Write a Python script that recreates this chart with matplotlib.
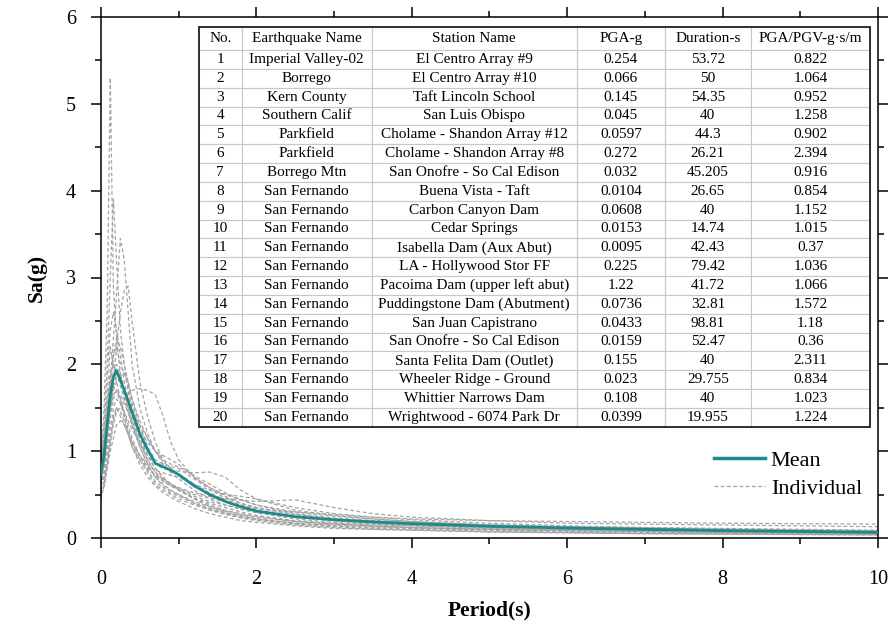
import matplotlib
matplotlib.use('Agg')
import matplotlib.pyplot as plt
from matplotlib.patches import Rectangle
from matplotlib.lines import Line2D
from matplotlib.ticker import MultipleLocator

plt.rcParams['font.family'] = ['Liberation Serif', 'DejaVu Serif']

## 주기 (s)
period = [0, 0.04, 0.08, 0.12, 0.16, 0.2, 0.25, 0.3, 0.35, 0.4, 0.5, 0.6, 0.7, 0.8, 0.9, 1.0,
          1.2, 1.4, 1.6, 1.8, 2.0, 2.5, 3.0, 3.5, 4.0, 5.0, 6.0, 7.0, 8.0, 9.0, 10.0]

# 평균 스펙트럼
mean_sa = [0.74, 0.95, 1.3, 1.65, 1.85, 1.93, 1.82, 1.7, 1.58, 1.45, 1.2, 1.02, 0.86, 0.82, 0.78, 0.73,
           0.6, 0.5, 0.42, 0.36, 0.31, 0.245, 0.21, 0.185, 0.165, 0.135, 0.115, 0.1, 0.085, 0.075, 0.065]

# 개별 지진 스펙트럼 (20개)
sa_01 = [0.85, 1.5, 2.6, 5.3, 2.9, 2.3, 1.9, 1.6, 1.45, 1.3, 1.05, 0.85, 0.7, 0.62, 0.55, 0.5,
         0.4, 0.33, 0.28, 0.24, 0.21, 0.16, 0.13, 0.11, 0.1, 0.08, 0.065, 0.055, 0.05, 0.045, 0.04]
sa_02 = [0.8, 1.2, 2.0, 3.0, 3.9, 3.2, 2.4, 2.0, 1.7, 1.5, 1.2, 0.95, 0.8, 0.7, 0.62, 0.55,
         0.45, 0.38, 0.32, 0.28, 0.25, 0.19, 0.16, 0.14, 0.12, 0.1, 0.085, 0.075, 0.065, 0.055, 0.05]
sa_03 = [0.7, 0.9, 1.3, 1.8, 2.3, 2.8, 3.45, 3.2, 2.6, 2.0, 1.5, 1.2, 1.0, 0.85, 0.75, 0.68,
         0.55, 0.45, 0.38, 0.33, 0.29, 0.22, 0.18, 0.16, 0.14, 0.11, 0.095, 0.08, 0.07, 0.06, 0.055]
sa_04 = [0.6, 0.75, 1.0, 1.4, 1.8, 2.2, 2.6, 2.85, 2.9, 2.5, 1.8, 1.4, 1.1, 0.9, 0.8, 0.72,
         0.6, 0.5, 0.42, 0.36, 0.31, 0.24, 0.2, 0.17, 0.15, 0.12, 0.1, 0.085, 0.075, 0.065, 0.06]
sa_05 = [0.55, 0.65, 0.85, 1.1, 1.3, 1.45, 1.5, 1.6, 1.65, 1.7, 1.72, 1.7, 1.65, 1.4, 1.1, 0.9,
         0.7, 0.58, 0.5, 0.44, 0.38, 0.3, 0.25, 0.22, 0.19, 0.15, 0.13, 0.11, 0.1, 0.09, 0.08]
sa_06 = [0.6, 0.7, 0.95, 1.2, 1.5, 1.6, 1.55, 1.45, 1.35, 1.25, 1.1, 0.95, 0.85, 0.8, 0.78, 0.77,
         0.75, 0.76, 0.7, 0.55, 0.45, 0.32, 0.26, 0.22, 0.19, 0.15, 0.13, 0.115, 0.1, 0.09, 0.08]
sa_07 = [0.5, 0.6, 0.8, 1.1, 1.35, 1.5, 1.45, 1.35, 1.2, 1.05, 0.9, 0.8, 0.72, 0.68, 0.62, 0.58,
         0.52, 0.48, 0.45, 0.44, 0.42, 0.44, 0.35, 0.28, 0.24, 0.2, 0.17, 0.16, 0.15, 0.14, 0.13]
sa_08 = [0.95, 1.3, 1.9, 2.4, 2.6, 2.4, 2.1, 1.8, 1.6, 1.4, 1.15, 0.95, 0.8, 0.7, 0.62, 0.56,
         0.45, 0.36, 0.3, 0.26, 0.22, 0.17, 0.14, 0.12, 0.11, 0.09, 0.075, 0.065, 0.055, 0.05, 0.045]
sa_09 = [0.65, 0.85, 1.2, 1.7, 2.1, 2.2, 2.0, 1.9, 1.75, 1.55, 1.25, 1.1, 1.0, 0.95, 0.9, 0.85,
         0.7, 0.58, 0.48, 0.4, 0.35, 0.27, 0.22, 0.2, 0.18, 0.14, 0.12, 0.1, 0.09, 0.08, 0.07]
sa_10 = [0.45, 0.6, 0.9, 1.2, 1.4, 1.5, 1.4, 1.3, 1.2, 1.1, 0.9, 0.75, 0.62, 0.55, 0.5, 0.45,
         0.38, 0.32, 0.27, 0.23, 0.2, 0.15, 0.12, 0.1, 0.09, 0.07, 0.06, 0.05, 0.045, 0.04, 0.035]
sa_11 = [0.75, 1.0, 1.5, 1.9, 2.0, 1.9, 1.75, 1.6, 1.5, 1.45, 1.3, 1.15, 1.0, 0.9, 0.85, 0.82,
         0.72, 0.62, 0.52, 0.44, 0.38, 0.28, 0.23, 0.2, 0.18, 0.15, 0.13, 0.12, 0.11, 0.1, 0.09]
sa_12 = [0.9, 1.1, 1.6, 2.2, 2.0, 1.8, 1.6, 1.4, 1.2, 1.05, 0.85, 0.7, 0.6, 0.52, 0.47, 0.42,
         0.34, 0.28, 0.24, 0.2, 0.18, 0.14, 0.11, 0.1, 0.09, 0.07, 0.06, 0.05, 0.045, 0.04, 0.035]
sa_13 = [0.7, 0.9, 1.2, 1.5, 1.7, 1.8, 1.85, 1.9, 1.8, 1.6, 1.3, 1.05, 0.9, 0.85, 0.82, 0.8,
         0.68, 0.56, 0.46, 0.4, 0.35, 0.27, 0.22, 0.19, 0.17, 0.14, 0.12, 0.1, 0.09, 0.08, 0.075]
sa_14 = [0.8, 1.05, 1.4, 1.6, 1.75, 1.7, 1.55, 1.4, 1.25, 1.1, 0.95, 0.85, 0.78, 0.75, 0.72, 0.7,
         0.62, 0.55, 0.5, 0.48, 0.45, 0.35, 0.28, 0.24, 0.21, 0.17, 0.14, 0.12, 0.105, 0.095, 0.085]
sa_15 = [0.6, 0.8, 1.1, 1.4, 1.6, 1.7, 1.6, 1.45, 1.3, 1.15, 0.95, 0.78, 0.65, 0.58, 0.52, 0.48,
         0.4, 0.34, 0.29, 0.25, 0.22, 0.17, 0.15, 0.13, 0.12, 0.1, 0.09, 0.08, 0.07, 0.065, 0.06]
sa_16 = [0.85, 1.15, 1.6, 1.8, 1.9, 2.0, 1.9, 1.7, 1.5, 1.35, 1.1, 0.9, 0.75, 0.66, 0.6, 0.56,
         0.48, 0.42, 0.38, 0.34, 0.3, 0.24, 0.2, 0.17, 0.15, 0.12, 0.1, 0.09, 0.08, 0.07, 0.065]
sa_17 = [0.5, 0.6, 0.8, 1.0, 1.15, 1.3, 1.35, 1.3, 1.2, 1.1, 0.95, 0.82, 0.72, 0.65, 0.6, 0.55,
         0.46, 0.4, 0.35, 0.3, 0.26, 0.2, 0.17, 0.15, 0.14, 0.12, 0.11, 0.1, 0.09, 0.08, 0.075]
sa_18 = [0.7, 0.95, 1.4, 1.8, 2.1, 2.3, 2.2, 2.0, 1.8, 1.6, 1.35, 1.15, 1.0, 0.88, 0.8, 0.74,
         0.62, 0.52, 0.44, 0.38, 0.33, 0.25, 0.21, 0.18, 0.16, 0.13, 0.11, 0.095, 0.085, 0.075, 0.07]
sa_19 = [0.75, 0.9, 1.25, 1.55, 1.75, 1.85, 1.8, 1.65, 1.5, 1.35, 1.1, 0.9, 0.76, 0.68, 0.62, 0.57,
         0.5, 0.46, 0.42, 0.38, 0.34, 0.3, 0.27, 0.24, 0.22, 0.2, 0.19, 0.18, 0.17, 0.165, 0.16]
sa_20 = [0.65, 0.85, 1.2, 1.5, 1.65, 1.7, 1.65, 1.55, 1.45, 1.3, 1.05, 0.85, 0.7, 0.6, 0.54, 0.5,
         0.42, 0.36, 0.31, 0.27, 0.24, 0.19, 0.16, 0.14, 0.12, 0.1, 0.085, 0.075, 0.065, 0.06, 0.055]

individual = [sa_01, sa_02, sa_03, sa_04, sa_05, sa_06, sa_07, sa_08, sa_09, sa_10,
              sa_11, sa_12, sa_13, sa_14, sa_15, sa_16, sa_17, sa_18, sa_19, sa_20]

## 표 데이터
col_labels = ['No.', 'Earthquake Name', 'Station Name', 'PGA-g', 'Duration-s', 'PGA/PGV-g\u00b7s/m']
eq_no = [str(i) for i in range(1, 21)]
eq_name = ['Imperial Valley-02', 'Borrego', 'Kern County', 'Southern Calif', 'Parkfield',
           'Parkfield', 'Borrego Mtn'] + ['San Fernando'] * 13
station = ['El Centro Array #9', 'El Centro Array #10', 'Taft Lincoln School', 'San Luis Obispo',
           'Cholame - Shandon Array #12', 'Cholame - Shandon Array #8', 'San Onofre - So Cal Edison',
           'Buena Vista - Taft', 'Carbon Canyon Dam', 'Cedar Springs', 'Isabella Dam (Aux Abut)',
           'LA - Hollywood Stor FF', 'Pacoima Dam (upper left abut)', 'Puddingstone Dam (Abutment)',
           'San Juan Capistrano', 'San Onofre - So Cal Edison', 'Santa Felita Dam (Outlet)',
           'Wheeler Ridge - Ground', 'Whittier Narrows Dam', 'Wrightwood - 6074 Park Dr']
pga = ['0.254', '0.066', '0.145', '0.045', '0.0597', '0.272', '0.032', '0.0104', '0.0608', '0.0153',
       '0.0095', '0.225', '1.22', '0.0736', '0.0433', '0.0159', '0.155', '0.023', '0.108', '0.0399']
duration = ['53.72', '50', '54.35', '40', '44.3', '26.21', '45.205', '26.65', '40', '14.74',
            '42.43', '79.42', '41.72', '32.81', '98.81', '52.47', '40', '29.755', '40', '19.955']
pga_pgv = ['0.822', '1.064', '0.952', '1.258', '0.902', '2.394', '0.916', '0.854', '1.152', '1.015',
           '0.37', '1.036', '1.066', '1.572', '1.18', '0.36', '2.311', '0.834', '1.023', '1.224']

fig = plt.figure(figsize=(8.95, 6.25), dpi=100)
ax = fig.add_axes([0.1128, 0.1392, 0.8682, 0.8336])

for s in individual:
    ax.plot(period, s, color='#a3a3a3', lw=0.9, ls=(0, (3, 2)), zorder=2)
ax.plot(period, mean_sa, color='#1c8a8a', lw=2.0, zorder=3)

ax.set_xlim(0, 10)
ax.set_ylim(0, 6)
ax.xaxis.set_major_locator(MultipleLocator(2))
ax.xaxis.set_minor_locator(MultipleLocator(1))
ax.yaxis.set_major_locator(MultipleLocator(1))
ax.yaxis.set_minor_locator(MultipleLocator(0.5))
ax.tick_params(which='both', direction='out', top=True, right=True, width=1.1, labelsize=14.5)
ax.tick_params(which='major', length=7)
ax.tick_params(which='minor', length=4)
ax.tick_params(axis='x', which='major', pad=16)
ax.tick_params(axis='y', which='major', pad=11)
for sp in ax.spines.values():
    sp.set_linewidth(1.1)

ax.set_xlabel('Period(s)', fontsize=15.5, fontweight='bold', labelpad=8)
ax.set_ylabel('Sa(g)', fontsize=15.5, fontweight='bold', labelpad=14)

# 범례
handles = [Line2D([], [], color='#1c8a8a', lw=2.5),
           Line2D([], [], color='#a3a3a3', lw=0.9, ls=(0, (3, 2)))]
ax.legend(handles, ['Mean', 'Individual'], loc='lower right', bbox_to_anchor=(0.988, 0.062),
          frameon=False, fontsize=16, handlelength=2.3, handletextpad=0.25,
          labelspacing=0.35, borderaxespad=0, borderpad=0.3)

# 표
rows = [[eq_no[i], eq_name[i], station[i], pga[i], duration[i], pga_pgv[i]] for i in range(20)]
col_w = [42.7, 130, 205, 88.3, 85.7, 119.3]
tx0, ty0, tw, th = 0.1261, 0.2136, 0.8636, 0.7672
tbl = ax.table(cellText=rows, colLabels=col_labels, cellLoc='center',
               colWidths=[w / sum(col_w) for w in col_w],
               bbox=[tx0, ty0, tw, th])
tbl.auto_set_font_size(False)
tbl.set_fontsize(11)
tbl.set_zorder(4)
for (r, c), cell in tbl.get_celld().items():
    cell.set_edgecolor('#c8c8c8')
    cell.set_linewidth(0.8)
    cell.set_height(23 if r == 0 else 18.8)
ax.add_patch(Rectangle((tx0, ty0), tw, th, transform=ax.transAxes, fill=False,
                       edgecolor='#222222', lw=1.3, zorder=5))

fig.savefig('out.png', dpi=100)
